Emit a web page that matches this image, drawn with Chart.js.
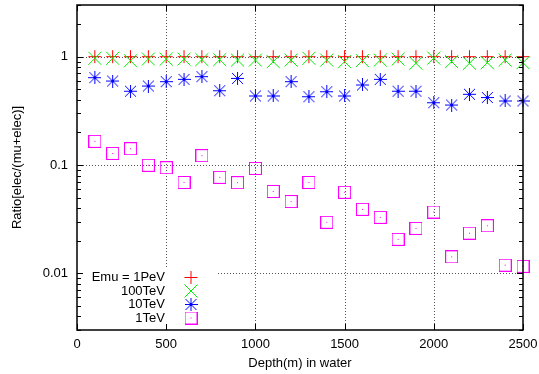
<!DOCTYPE html>
<html><head><meta charset="utf-8">
<script src="https://cdn.jsdelivr.net/npm/chart.js@4/dist/chart.umd.min.js"></script>
<style>html,body{margin:0;padding:0;background:#fff}canvas{display:block}</style>
</head><body>
<canvas id="c" width="539" height="374"></canvas>
<script>
const depths = [100,200,300,400,500,600,700,800,900,1000,1100,1200,1300,1400,1500,1600,1700,1800,1900,2000,2100,2200,2300,2400,2500];
const ratio1PeV = [1.0,1.0,1.0,1.0,1.0,1.0,1.0,1.0,1.0,1.0,1.0,1.0,1.0,1.0,1.0,1.0,1.0,1.0,1.0,1.0,1.0,1.0,1.0,1.0,1.0];
const ratio100TeV = [0.966,0.966,0.918,0.952,0.95,0.95,0.94,0.94,0.93,0.93,0.90,0.93,0.966,0.93,0.90,0.92,0.93,0.95,0.87,0.97,0.90,0.87,0.88,0.93,0.88];
const ratio10TeV = [0.64,0.596,0.48,0.536,0.588,0.618,0.654,0.485,0.63,0.434,0.434,0.588,0.427,0.475,0.434,0.548,0.618,0.48,0.48,0.376,0.358,0.45,0.42,0.39,0.39];
const ratio1TeV = [0.1655,0.128,0.1415,0.0994,0.0944,0.069,0.122,0.077,0.0687,0.093,0.057,0.046,0.069,0.0296,0.056,0.039,0.0329,0.0206,0.026,0.0368,0.0142,0.0235,0.0275,0.0119,0.0116];
const seriesLabels = ['Emu = 1PeV','100TeV','10TeV','1TeV'];
const xTickValues = [0,500,1000,1500,2000,2500];
const yTickValues = [0.01,0.1,1];
const yTickLabels = ['0.01','0.1','1'];
const xTitle = 'Depth(m) in water';
const yTitle = 'Ratio[elec/(mu+elec)]';

const FONT = '"Liberation Sans", Arial, Helvetica, sans-serif';

function makeStar(color){
  const s=13, c=document.createElement('canvas'); c.width=s; c.height=s;
  const g=c.getContext('2d'); g.strokeStyle=color; g.lineWidth=1;
  g.beginPath();
  g.moveTo(0,6.5); g.lineTo(13,6.5);
  g.moveTo(6.5,0); g.lineTo(6.5,13);
  g.moveTo(1,1); g.lineTo(12,12);
  g.moveTo(12,1); g.lineTo(1,12);
  g.stroke();
  return c;
}
function makeSquare(color){
  const s=13, c=document.createElement('canvas'); c.width=s; c.height=s;
  const g=c.getContext('2d'); g.strokeStyle=color; g.lineWidth=1;
  g.strokeRect(0.5,0.5,12,12);
  g.fillStyle=color; g.fillRect(6,6,1,1);
  return c;
}
const starImg = makeStar('#0000ff');
const squareImg = makeSquare('#ff00ff');

const styles = [
  {pointStyle:'cross', radius:6.5, color:'#ff0000'},
  {pointStyle:'crossRot', radius:9.2, color:'#00ee00'},
  {pointStyle:starImg, radius:6.5, color:'#0000ff'},
  {pointStyle:squareImg, radius:6.5, color:'#ff00ff'}
];
const seriesData = [ratio1PeV, ratio100TeV, ratio10TeV, ratio1TeV];

const datasets = seriesData.map((arr,i)=>({
  label: seriesLabels[i],
  data: depths.map((d,k)=>({x:d, y:arr[k]})),
  showLine:false,
  clip:false,
  pointStyle: styles[i].pointStyle,
  pointRadius: styles[i].radius,
  pointBorderColor: styles[i].color,
  pointBackgroundColor: 'rgba(0,0,0,0)',
  pointBorderWidth: 1,
  order: 4-i
}));

const legendRows = [277.5, 291, 304.5, 318];

const frame = {
  id:'frame',
  beforeDatasetsDraw(chart){
    const {ctx, chartArea:a, scales:{x,y}} = chart;
    ctx.save();
    ctx.strokeStyle='#555'; ctx.lineWidth=1; ctx.setLineDash([1,2]);
    xTickValues.forEach(v=>{
      if (v<=x.min || v>=x.max) return;
      const px=Math.round(x.getPixelForValue(v))+0.5;
      ctx.beginPath(); ctx.moveTo(px,a.top); ctx.lineTo(px,a.bottom); ctx.stroke();
    });
    yTickValues.forEach(v=>{
      const py=Math.round(y.getPixelForValue(v))+0.5;
      ctx.beginPath(); ctx.moveTo(a.left,py); ctx.lineTo(a.right,py); ctx.stroke();
    });
    ctx.setLineDash([]);
    ctx.fillStyle='#fff';
    ctx.fillRect(a.left, 269, 216-a.left, a.bottom-269);
    ctx.restore();
  },
  afterDatasetsDraw(chart){
    const {ctx, chartArea:a, scales:{x,y}} = chart;
    ctx.save();
    ctx.strokeStyle='#000'; ctx.lineWidth=1.5;
    ctx.strokeRect(a.left, a.top, a.right-a.left, a.bottom-a.top);
    ctx.lineWidth=1;
    xTickValues.forEach(v=>{
      const px=Math.round(x.getPixelForValue(v))+0.5;
      ctx.beginPath();
      ctx.moveTo(px,a.bottom); ctx.lineTo(px,a.bottom-6);
      ctx.moveTo(px,a.top); ctx.lineTo(px,a.top+6);
      ctx.stroke();
    });
    for (let e=-3; e<=0; e++){
      for (let m=1; m<=9; m++){
        const v = m*Math.pow(10,e);
        if (v < y.min*0.999 || v > y.max*1.001) continue;
        const len = (m===1)?6:4;
        const py=Math.round(y.getPixelForValue(v))+0.5;
        ctx.beginPath();
        ctx.moveTo(a.left,py); ctx.lineTo(a.left+len,py);
        ctx.moveTo(a.right,py); ctx.lineTo(a.right-len,py);
        ctx.stroke();
      }
    }
    ctx.fillStyle='#000';
    ctx.font='13px '+FONT;
    ctx.textAlign='right'; ctx.textBaseline='middle';
    const draw = Chart.helpers && Chart.helpers.drawPoint;
    seriesLabels.forEach((lab,i)=>{
      ctx.fillText(lab, 165, legendRows[i]);
      const st = styles[i];
      ctx.strokeStyle = st.color; ctx.fillStyle='rgba(0,0,0,0)'; ctx.lineWidth=1;
      if (draw) draw(ctx, {pointStyle:st.pointStyle, radius:st.radius, rotation:0, borderWidth:1}, 191, legendRows[i]);
      ctx.fillStyle='#000';
    });
    ctx.textAlign='center'; ctx.textBaseline='middle';
    ctx.fillText(xTitle, (a.left+a.right)/2, 363);
    ctx.translate(17.5, (a.top+a.bottom)/2);
    ctx.rotate(-Math.PI/2);
    ctx.fillText(yTitle, 0, 0);
    ctx.restore();
  }
};

new Chart(document.getElementById('c'), {
  type:'scatter',
  data:{datasets},
  options:{
    responsive:false, animation:false, devicePixelRatio:1,
    layout:{autoPadding:false, padding:{top:5,right:16,left:0,bottom:0}},
    plugins:{legend:{display:false}, tooltip:{enabled:false}},
    scales:{
      x:{
        type:'linear', min:0, max:2500,
        afterBuildTicks:(s)=>{ s.ticks = xTickValues.map(v=>({value:v})); },
        afterFit:(s)=>{ s.height=44; s.paddingLeft=0; s.paddingRight=0; },
        grid:{display:false, drawTicks:false}, border:{display:false},
        ticks:{color:'#000', font:{family:FONT, size:13}, padding:7, maxRotation:0, autoSkip:false,
               callback:(v)=>String(v)}
      },
      y:{
        type:'logarithmic', min:0.003, max:3,
        afterBuildTicks:(s)=>{ s.ticks = yTickValues.map(v=>({value:v})); },
        afterFit:(s)=>{ s.width=77; s.paddingTop=0; s.paddingBottom=0; },
        grid:{display:false, drawTicks:false}, border:{display:false},
        ticks:{color:'#000', font:{family:FONT, size:13}, padding:9, autoSkip:false,
               callback:(v)=>{ const i=yTickValues.findIndex(t=>Math.abs(t-v)<1e-9); return i>=0?yTickLabels[i]:''; }}
      }
    }
  },
  plugins:[frame]
});
</script>
</body></html>
